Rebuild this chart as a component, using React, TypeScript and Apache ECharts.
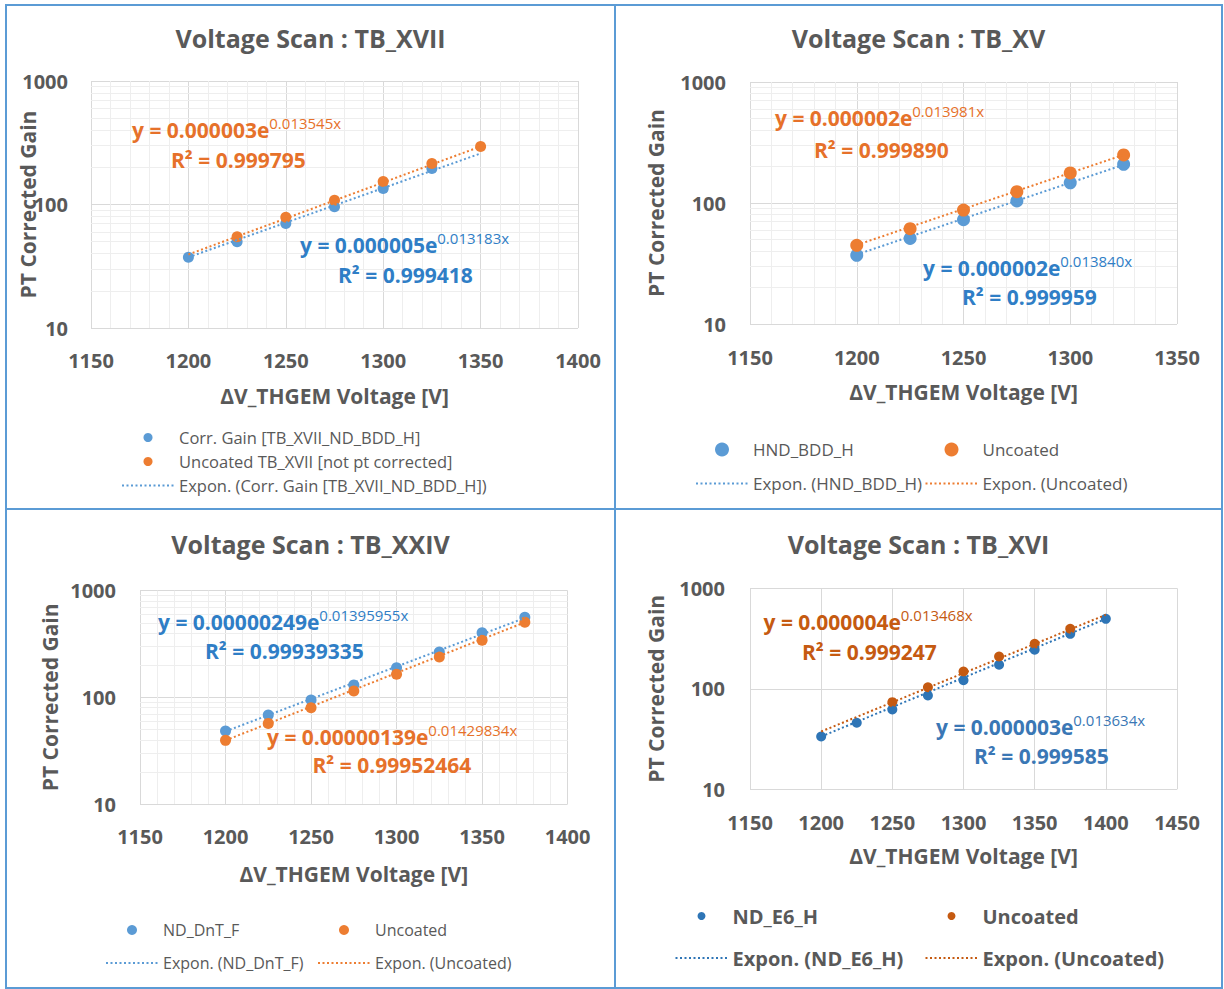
import React, { useEffect, useRef } from "react";
import * as echarts from "echarts";

const FONT = "'Open Sans', 'Noto Sans', sans-serif";
const GREY = "#595959";
const BLUE = "#5B9BD5";
const ORANGE = "#ED7D31";
const BLUE_TXT = "#2F7EC6";
const ORANGE_TXT = "#E6712A";
const BLUE_DK = "#2E75B6";
const ORANGE_DK = "#C55A11";
const GRID_MAJOR = "#D9D9D9";
const GRID_MINOR = "#EEEEEE";

// minor log gridlines (values between decades)
const LOG_MINOR = [20, 30, 40, 50, 60, 70, 80, 90, 200, 300, 400, 500, 600, 700, 800, 900];
const Y_RANGE = [10, 1000];

// ---------- Panel 1 : TB_XVII ----------
const XVII_X_RANGE = [1150, 1400];
const XVII_VOLTS = [1200, 1225, 1250, 1275, 1300, 1325, 1350];
const XVII_CORR_GAIN = [37.4, 49.9, 70.2, 95.8, 134.8, 195.7, null];
const XVII_UNCOATED_GAIN = [null, 54.7, 79.0, 108.3, 153.4, 214.6, 295];
const XVII_CORR_FIT_X = [1200, 1350];
const XVII_CORR_FIT_Y = [37.4, 259];
const XVII_UNC_FIT_X = [1200, 1350];
const XVII_UNC_FIT_Y = [39.4, 295];

// ---------- Panel 2 : TB_XV ----------
const XV_X_RANGE = [1150, 1350];
const XV_VOLTS = [1200, 1225, 1250, 1275, 1300, 1325];
const XV_HND_GAIN = [37, 51, 72.8, 104, 147, 209];
const XV_UNCOATED_GAIN = [44.7, 61.3, 87.5, 124, 177, 249.5];
const XV_HND_FIT_X = [1200, 1325];
const XV_HND_FIT_Y = [37.5, 207];
const XV_UNC_FIT_X = [1200, 1325];
const XV_UNC_FIT_Y = [45, 250];

// ---------- Panel 3 : TB_XXIV ----------
const XXIV_X_RANGE = [1150, 1400];
const XXIV_VOLTS = [1200, 1225, 1250, 1275, 1300, 1325, 1350, 1375];
const XXIV_DNT_GAIN = [48.3, 68.2, 94.3, 130.5, 189.7, 266, 404, 563];
const XXIV_UNCOATED_GAIN = [39.5, 57, 79.9, 114.6, 164.4, 238.7, 342.9, 506];
const XXIV_DNT_FIT_X = [1200, 1375];
const XXIV_DNT_FIT_Y = [48, 555];
const XXIV_UNC_FIT_X = [1200, 1375];
const XXIV_UNC_FIT_Y = [39.5, 505];

// ---------- Panel 4 : TB_XVI ----------
const XVI_X_RANGE = [1150, 1450];
const XVI_VOLTS = [1200, 1225, 1250, 1275, 1300, 1325, 1350, 1375, 1400];
const XVI_E6_GAIN = [33.5, 45.9, 62.3, 85.8, 121.8, 173.4, 244.5, 352.4, 497];
const XVI_UNCOATED_GAIN = [null, null, 73.6, 103.7, 148.5, 209.5, 280.5, 395.5, null];
const XVI_E6_FIT_X = [1200, 1400];
const XVI_E6_FIT_Y = [33.5, 497];
const XVI_UNC_FIT_X = [1200, 1400];
const XVI_UNC_FIT_Y = [37.6, 545];

type Pts = { name: string; x: number[]; y: (number | null)[]; color: string; size: number };
type Fit = { name: string; x: number[]; y: number[]; color: string };
type Eq = { main: string; sup: string; r2: string; color: string; x1: number; y1: number; x2: number; y2: number };
type Leg = { left: number; top: number; gap: number; iconH: number; fontSize: number; bold: boolean; names: string[] };
type Panel = {
  box: [number, number, number, number];
  title: string;
  titleTop: number;
  grid: { left: number; top: number; width: number; height: number };
  xRange: number[];
  minor: boolean;
  xMargin: number;
  yMargin: number;
  xNameGap: number;
  yNameGap: number;
  pts: Pts[];
  fits: Fit[];
  legends: Leg[];
  eqs: Eq[];
};

const PANELS: Panel[] = [
  {
    box: [6, 5, 609, 504],
    title: "Voltage Scan : TB_XVII",
    titleTop: 20,
    grid: { left: 85, top: 76, width: 487, height: 247 },
    xRange: XVII_X_RANGE,
    minor: true,
    xMargin: 22,
    yMargin: 23,
    xNameGap: 57,
    yNameGap: 53,
    pts: [
      { name: "Corr. Gain [TB_XVII_ND_BDD_H]", x: XVII_VOLTS, y: XVII_CORR_GAIN, color: BLUE, size: 11 },
      { name: "Uncoated TB_XVII [not pt corrected]", x: XVII_VOLTS, y: XVII_UNCOATED_GAIN, color: ORANGE, size: 11 },
    ],
    fits: [
      { name: "Expon. (Corr. Gain [TB_XVII_ND_BDD_H])", x: XVII_CORR_FIT_X, y: XVII_CORR_FIT_Y, color: BLUE },
      { name: "Expon. (Uncoated TB_XVII [not pt corrected])", x: XVII_UNC_FIT_X, y: XVII_UNC_FIT_Y, color: ORANGE },
    ],
    legends: [
      {
        left: 115, top: 424, gap: 7, iconH: 9, fontSize: 16.5, bold: false,
        names: ["Corr. Gain [TB_XVII_ND_BDD_H]", "Uncoated TB_XVII [not pt corrected]", "Expon. (Corr. Gain [TB_XVII_ND_BDD_H])"],
      },
    ],
    eqs: [
      { main: "y = 0.000003e", sup: "0.013545x", r2: "R² = 0.999795", color: ORANGE_TXT, x1: 126, y1: 125, x2: 165, y2: 155 },
      { main: "y = 0.000005e", sup: "0.013183x", r2: "R² = 0.999418", color: BLUE_TXT, x1: 294, y1: 240, x2: 332, y2: 270 },
    ],
  },
  {
    box: [615, 5, 607, 504],
    title: "Voltage Scan : TB_XV",
    titleTop: 20,
    grid: { left: 135, top: 77, width: 427, height: 242 },
    xRange: XV_X_RANGE,
    minor: true,
    xMargin: 23,
    yMargin: 24,
    xNameGap: 57,
    yNameGap: 84,
    pts: [
      { name: "HND_BDD_H", x: XV_VOLTS, y: XV_HND_GAIN, color: BLUE, size: 13 },
      { name: "Uncoated", x: XV_VOLTS, y: XV_UNCOATED_GAIN, color: ORANGE, size: 13 },
    ],
    fits: [
      { name: "Expon. (HND_BDD_H)", x: XV_HND_FIT_X, y: XV_HND_FIT_Y, color: BLUE },
      { name: "Expon. (Uncoated)", x: XV_UNC_FIT_X, y: XV_UNC_FIT_Y, color: ORANGE },
    ],
    legends: [
      { left: 80, top: 436, gap: 17, iconH: 14, fontSize: 17, bold: false, names: ["HND_BDD_H", "Expon. (HND_BDD_H)"] },
      { left: 309.5, top: 436, gap: 17, iconH: 14, fontSize: 17, bold: false, names: ["Uncoated", "Expon. (Uncoated)"] },
    ],
    eqs: [
      { main: "y = 0.000002e", sup: "0.013981x", r2: "R² = 0.999890", color: ORANGE_TXT, x1: 160, y1: 113, x2: 199, y2: 145 },
      { main: "y = 0.000002e", sup: "0.013840x", r2: "R² = 0.999959", color: BLUE_TXT, x1: 308, y1: 263, x2: 347, y2: 292 },
    ],
  },
  {
    box: [6, 510, 609, 478],
    title: "Voltage Scan : TB_XXIV",
    titleTop: 21,
    grid: { left: 134, top: 80.7, width: 427.6, height: 213.3 },
    xRange: XXIV_X_RANGE,
    minor: true,
    xMargin: 22,
    yMargin: 24,
    xNameGap: 59,
    yNameGap: 80,
    pts: [
      { name: "ND_DnT_F", x: XXIV_VOLTS, y: XXIV_DNT_GAIN, color: BLUE, size: 11 },
      { name: "Uncoated", x: XXIV_VOLTS, y: XXIV_UNCOATED_GAIN, color: ORANGE, size: 11 },
    ],
    fits: [
      { name: "Expon. (ND_DnT_F)", x: XXIV_DNT_FIT_X, y: XXIV_DNT_FIT_Y, color: BLUE },
      { name: "Expon. (Uncoated)", x: XXIV_UNC_FIT_X, y: XXIV_UNC_FIT_Y, color: ORANGE },
    ],
    legends: [
      { left: 99, top: 412, gap: 17, iconH: 10, fontSize: 16, bold: false, names: ["ND_DnT_F", "Expon. (ND_DnT_F)"] },
      { left: 311, top: 412, gap: 17, iconH: 10, fontSize: 16, bold: false, names: ["Uncoated", "Expon. (Uncoated)"] },
    ],
    eqs: [
      { main: "y = 0.00000249e", sup: "0.01395955x", r2: "R² = 0.99939335", color: BLUE_TXT, x1: 152, y1: 112, x2: 199, y2: 141 },
      { main: "y = 0.00000139e", sup: "0.01429834x", r2: "R² = 0.99952464", color: ORANGE_TXT, x1: 261, y1: 227, x2: 306.5, y2: 255 },
    ],
  },
  {
    box: [615, 510, 607, 478],
    title: "Voltage Scan : TB_XVI",
    titleTop: 21,
    grid: { left: 135, top: 78.3, width: 427, height: 201 },
    xRange: XVI_X_RANGE,
    minor: false,
    xMargin: 23,
    yMargin: 25,
    xNameGap: 56,
    yNameGap: 84,
    pts: [
      { name: "ND_E6_H", x: XVI_VOLTS, y: XVI_E6_GAIN, color: BLUE_DK, size: 10 },
      { name: "Uncoated", x: XVI_VOLTS, y: XVI_UNCOATED_GAIN, color: ORANGE_DK, size: 10 },
    ],
    fits: [
      { name: "Expon. (ND_E6_H)", x: XVI_E6_FIT_X, y: XVI_E6_FIT_Y, color: BLUE_DK },
      { name: "Expon. (Uncoated)", x: XVI_UNC_FIT_X, y: XVI_UNC_FIT_Y, color: ORANGE_DK },
    ],
    legends: [
      { left: 59.5, top: 396, gap: 22, iconH: 8, fontSize: 20, bold: true, names: ["ND_E6_H", "Expon. (ND_E6_H)"] },
      { left: 309.5, top: 396, gap: 22, iconH: 8, fontSize: 20, bold: true, names: ["Uncoated", "Expon. (Uncoated)"] },
    ],
    eqs: [
      { main: "y = 0.000004e", sup: "0.013468x", r2: "R² = 0.999247", color: ORANGE_DK, x1: 148.5, y1: 112, x2: 187, y2: 142 },
      { main: "y = 0.000003e", sup: "0.013634x", r2: "R² = 0.999585", color: "#3A77B5", x1: 321, y1: 217, x2: 359, y2: 246 },
    ],
  },
];

function buildOption(p: Panel): any {
  const labelStyle = { fontFamily: FONT, fontSize: 20, fontWeight: "bold", color: GREY };
  const nameStyle = { fontFamily: FONT, fontSize: 21, fontWeight: "bold", color: GREY };
  const fitNames = p.fits.map((f) => f.name);
  const series: any[] = [];
  series.push({
    type: "line",
    name: "__minor",
    data: [],
    silent: true,
    z: 1,
    markLine: p.minor
      ? {
          silent: true,
          z: 1,
          symbol: ["none", "none"],
          label: { show: false },
          lineStyle: { color: GRID_MINOR, width: 1, type: "solid" },
          emphasis: { disabled: true },
          data: LOG_MINOR.map((v) => ({ yAxis: v })),
        }
      : undefined,
  });
  p.pts.forEach((s) => {
    series.push({
      type: "scatter",
      name: s.name,
      symbol: "circle",
      symbolSize: s.size,
      z: 3,
      itemStyle: { color: s.color, opacity: 1 },
      emphasis: { disabled: true },
      data: s.x.map((x, i) => [x, s.y[i]]).filter((d) => d[1] != null),
    });
  });
  p.fits.forEach((f) => {
    series.push({
      type: "line",
      name: f.name,
      symbol: "none",
      showSymbol: false,
      z: 4,
      lineStyle: { color: f.color, width: 2, type: [2, 2.5] },
      itemStyle: { color: f.color },
      emphasis: { disabled: true },
      data: f.x.map((x, i) => [x, f.y[i]]),
    });
  });
  const graphic: any[] = [];
  p.eqs.forEach((e) => {
    graphic.push({
      type: "text",
      x: e.x1,
      y: e.y1,
      z: 100,
      silent: true,
      style: {
        text: `{m|${e.main}}{s|${e.sup}}`,
        verticalAlign: "middle",
        align: "left",
        rich: {
          m: { fontFamily: FONT, fontSize: 21, fontWeight: "bold", fill: e.color, lineHeight: 30 },
          s: { fontFamily: FONT, fontSize: 15, fontWeight: "normal", fill: e.color, lineHeight: 15, verticalAlign: "top" },
        },
      },
    });
    graphic.push({
      type: "text",
      x: e.x2,
      y: e.y2,
      z: 100,
      silent: true,
      style: {
        text: e.r2,
        verticalAlign: "middle",
        align: "left",
        fontFamily: FONT,
        fontSize: 21,
        fontWeight: "bold",
        fill: e.color,
      },
    });
  });
  return {
    animation: false,
    backgroundColor: "transparent",
    title: {
      text: p.title,
      left: "center",
      top: p.titleTop,
      padding: 0,
      textStyle: { fontFamily: FONT, fontSize: 25, fontWeight: "bold", color: GREY },
    },
    grid: { ...p.grid, containLabel: false, outerBoundsMode: "none" },
    xAxis: {
      type: "value",
      min: p.xRange[0],
      max: p.xRange[1],
      interval: 50,
      axisLine: { show: false },
      axisTick: { show: false },
      axisLabel: { ...labelStyle, margin: p.xMargin, formatter: (v: number) => String(Math.round(v)) },
      splitLine: { show: true, lineStyle: { color: GRID_MAJOR, width: 1 } },
      minorTick: { show: false, splitNumber: 5 },
      minorSplitLine: { show: p.minor, lineStyle: { color: GRID_MINOR, width: 1 } },
      name: "ΔV_THGEM Voltage [V]",
      nameLocation: "middle",
      nameGap: p.xNameGap,
      nameMoveOverlap: false,
      nameTextStyle: nameStyle,
    },
    yAxis: {
      type: "log",
      logBase: 10,
      min: Y_RANGE[0],
      max: Y_RANGE[1],
      axisLine: { show: false },
      axisTick: { show: false },
      axisLabel: { ...labelStyle, margin: p.yMargin, formatter: (v: number) => String(Math.round(v)) },
      splitLine: { show: true, lineStyle: { color: GRID_MAJOR, width: 1 } },
      name: "PT Corrected Gain",
      nameLocation: "middle",
      nameGap: p.yNameGap,
      nameMoveOverlap: false,
      nameTextStyle: nameStyle,
    },
    legend: p.legends.map((l) => ({
      orient: "vertical",
      left: l.left,
      top: l.top,
      padding: 0,
      itemGap: l.gap,
      itemWidth: 52,
      itemHeight: l.iconH,
      selectedMode: false,
      data: l.names.map((n) => (fitNames.includes(n) ? { name: n, itemStyle: { opacity: 0 } } : { name: n })),
      textStyle: { fontFamily: FONT, fontSize: l.fontSize, fontWeight: l.bold ? "bold" : "normal", color: GREY },
    })),
    series,
    graphic,
  };
}

function PanelChart({ spec }: { spec: Panel }) {
  const ref = useRef<HTMLDivElement>(null);
  useEffect(() => {
    if (!ref.current) return;
    const chart = echarts.init(ref.current, undefined, { renderer: "svg" });
    chart.setOption(buildOption(spec));
    return () => chart.dispose();
  }, [spec]);
  return (
    <div
      ref={ref}
      style={{ position: "absolute", left: spec.box[0], top: spec.box[1], width: spec.box[2], height: spec.box[3] }}
    />
  );
}

export default function App() {
  const line = "#5B9BD5";
  return (
    <div style={{ position: "absolute", left: 0, top: 0, width: 1224, height: 989, background: "#ffffff", overflow: "hidden" }}>
      {PANELS.map((p, i) => (
        <PanelChart key={i} spec={p} />
      ))}
      <div style={{ position: "absolute", left: 5, top: 4, width: 1218, height: 985, boxSizing: "border-box", border: `2px solid ${line}`, pointerEvents: "none" }} />
      <div style={{ position: "absolute", left: 614, top: 4, width: 2, height: 985, background: line, pointerEvents: "none" }} />
      <div style={{ position: "absolute", left: 5, top: 508, width: 1218, height: 2, background: line, pointerEvents: "none" }} />
    </div>
  );
}
